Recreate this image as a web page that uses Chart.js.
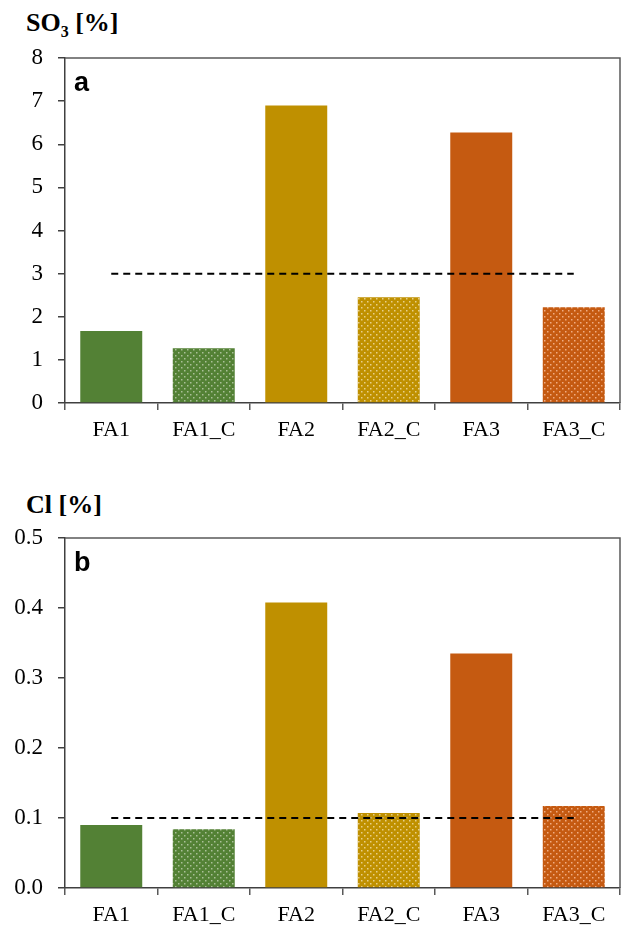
<!DOCTYPE html>
<html>
<head>
<meta charset="utf-8">
<script src="https://cdn.jsdelivr.net/npm/chart.js@4"></script>
<style>
  body { margin:0; width:621px; height:932px; background:#fff; position:relative; overflow:hidden; }
  .ttl { position:absolute; font-family:"Liberation Serif", serif; font-weight:bold; font-size:26px; color:#000; line-height:30px; }
  .ttl sub { font-size:16px; }
  canvas { position:absolute; left:0; }
</style>
</head>
<body>
<div class="ttl" style="left:26px; top:8px;">SO<sub>3</sub> [%]</div>
<div class="ttl" style="left:26px; top:490px;">Cl [%]</div>
<div style="position:absolute; left:0; top:0; width:621px; height:460px;"><canvas id="cSO3"></canvas></div>
<div style="position:absolute; left:0; top:465px; width:621px; height:467px;"><canvas id="cCl"></canvas></div>
<script>
// ----------------- データ -----------------
const labels = ['FA1', 'FA1_C', 'FA2', 'FA2_C', 'FA3', 'FA3_C'];
const so3Vals = [1.67, 1.27, 6.9, 2.45, 6.27, 2.22];
const so3Limit = [3, 3, 3, 3, 3, 3];
const clVals = [0.09, 0.084, 0.408, 0.107, 0.335, 0.117];
const clLimit = [0.1, 0.1, 0.1, 0.1, 0.1, 0.1];

const green = '#538135', gold = '#bf9000', orange = '#c55a11';

// 点々パターン
function dots(base, dot) {
  const c = document.createElement('canvas'); c.width = 6; c.height = 6;
  const x = c.getContext('2d');
  x.fillStyle = base; x.fillRect(0, 0, 6, 6);
  x.fillStyle = dot;
  x.fillRect(1, 1, 1.5, 1.5); x.fillRect(4, 4, 1.5, 1.5);
  return x.createPattern(c, 'repeat');
}
const barColors = [green, dots(green, '#a9c098'), gold, dots(gold, '#e8cf8a'), orange, dots(orange, '#f0ac82')];

// 枠と a/b ラベル
const boxPlugin = {
  id: 'box',
  afterDraw(chart, args, opts) {
    const a = chart.chartArea, ctx = chart.ctx;
    ctx.save();
    ctx.strokeStyle = '#595959'; ctx.lineWidth = 1.5;
    ctx.beginPath();
    ctx.moveTo(a.left, a.top); ctx.lineTo(a.right, a.top); ctx.lineTo(a.right, a.bottom);
    ctx.stroke();
    ctx.fillStyle = '#000';
    ctx.font = 'bold 27px "Liberation Sans", Arial, sans-serif';
    ctx.fillText(opts.letter, a.left + 9, a.top + 33);
    ctx.restore();
  }
};

function makeChart(id, vals, limit, max, step, dec, padTop, xH, letter) {
  const serif = '"Liberation Serif", serif';
  return new Chart(document.getElementById(id), {
    data: {
      labels: labels,
      datasets: [
        { type: 'line', data: limit, borderColor: '#000', borderWidth: 2, borderDash: [7, 5], pointRadius: 0, order: 0 },
        { type: 'bar', data: vals, backgroundColor: barColors, categoryPercentage: 1, barPercentage: 0.67, order: 1 }
      ]
    },
    options: {
      responsive: true, maintainAspectRatio: false, animation: false,
      layout: { padding: { top: padTop, right: 1, left: 0, bottom: 0 } },
      plugins: { legend: { display: false }, tooltip: { enabled: false }, box: { letter: letter } },
      scales: {
        x: {
          offset: true,
          grid: { offset: true, drawOnChartArea: false, tickLength: 7, color: '#595959', lineWidth: 1.5 },
          border: { color: '#404040', width: 1.5 },
          ticks: { color: '#000', font: { family: serif, size: 22 }, padding: 7 },
          afterFit(s) { s.height = xH; }
        },
        y: {
          min: 0, max: max,
          grid: { drawOnChartArea: false, tickLength: 7, color: '#404040', lineWidth: 1.5 },
          border: { color: '#404040', width: 1.5 },
          ticks: { stepSize: step, color: '#000', font: { family: serif, size: 23 }, padding: 15, callback: v => v.toFixed(dec) },
          afterFit(s) { s.width = 65; }
        }
      }
    },
    plugins: [boxPlugin]
  });
}

makeChart('cSO3', so3Vals, so3Limit, 8, 1, 0, 58, 57, 'a');
makeChart('cCl', clVals, clLimit, 0.5, 0.1, 1, 73, 44, 'b');
</script>
</body>
</html>
